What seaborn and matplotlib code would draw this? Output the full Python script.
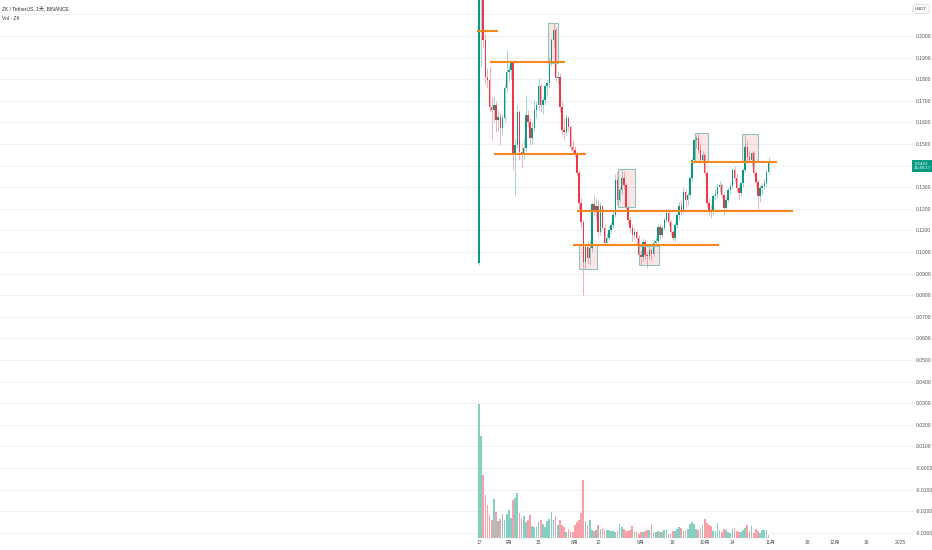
import numpy as np
import pandas as pd
import matplotlib
matplotlib.use("Agg")
import matplotlib.pyplot as plt
from matplotlib.patches import Rectangle
import seaborn as sns

# daily candles ZK/USDT (first day = 2024-06-17)
start_date = "2024-06-17"
open_ = [0.0949, 0.2190, 0.2213, 0.1981, 0.1810, 0.1796, 0.1671, 0.1657, 0.1681, 0.1611,
         0.1625, 0.1574, 0.1620, 0.1759, 0.1833, 0.1843, 0.1875, 0.1458, 0.1495, 0.1648,
         0.1463, 0.1449, 0.1481, 0.1634, 0.1602, 0.1528, 0.1574, 0.1657, 0.1681, 0.1768,
         0.1681, 0.1704, 0.1768, 0.1782, 0.1880, 0.1981, 0.2028, 0.1806, 0.1810, 0.1671,
         0.1565, 0.1556, 0.1620, 0.1579, 0.1486, 0.1472, 0.1458, 0.1366, 0.1227, 0.1139,
         0.0954, 0.1023, 0.0972, 0.1018, 0.1222, 0.1194, 0.1213, 0.1093, 0.1213, 0.1111,
         0.1042, 0.1065, 0.1102, 0.1125, 0.1171, 0.1333, 0.1241, 0.1287, 0.1343, 0.1310,
         0.1208, 0.1148, 0.1111, 0.1079, 0.1093, 0.1065, 0.0986, 0.0977, 0.1046, 0.0986,
         0.0981, 0.1009, 0.0991, 0.1042, 0.1051, 0.1116, 0.1079, 0.1111, 0.1148, 0.1181,
         0.1139, 0.1093, 0.1065, 0.1125, 0.1171, 0.1213, 0.1194, 0.1278, 0.1241, 0.1264,
         0.1343, 0.1426, 0.1519, 0.1528, 0.1472, 0.1426, 0.1449, 0.1366, 0.1227, 0.1194,
         0.1185, 0.1259, 0.1269, 0.1301, 0.1310, 0.1264, 0.1204, 0.1241, 0.1287, 0.1306,
         0.1380, 0.1343, 0.1296, 0.1273, 0.1319, 0.1380, 0.1486, 0.1440, 0.1426, 0.1458,
         0.1366, 0.1324, 0.1259, 0.1296, 0.1306, 0.1319, 0.1370]
high = [0.2400, 0.2350, 0.2230, 0.2010, 0.1850, 0.1856, 0.1720, 0.1720, 0.1700, 0.1660,
        0.1650, 0.1640, 0.1780, 0.1935, 0.1860, 0.1890, 0.1880, 0.1530, 0.1680, 0.1660,
        0.1500, 0.1530, 0.1727, 0.1660, 0.1620, 0.1600, 0.1704, 0.1700, 0.1806, 0.1780,
        0.1720, 0.1780, 0.1800, 0.1900, 0.1990, 0.2059, 0.2040, 0.1840, 0.1830, 0.1700,
        0.1620, 0.1640, 0.1630, 0.1590, 0.1520, 0.1490, 0.1470, 0.1380, 0.1250, 0.1150,
        0.1040, 0.1050, 0.1060, 0.1230, 0.1260, 0.1250, 0.1240, 0.1230, 0.1220, 0.1130,
        0.1090, 0.1120, 0.1140, 0.1190, 0.1360, 0.1370, 0.1300, 0.1383, 0.1370, 0.1320,
        0.1220, 0.1160, 0.1130, 0.1110, 0.1100, 0.1080, 0.1010, 0.1060, 0.1060, 0.1000,
        0.1030, 0.1020, 0.1060, 0.1070, 0.1130, 0.1130, 0.1120, 0.1160, 0.1200, 0.1190,
        0.1150, 0.1100, 0.1140, 0.1180, 0.1230, 0.1240, 0.1300, 0.1290, 0.1280, 0.1350,
        0.1440, 0.1530, 0.1540, 0.1551, 0.1500, 0.1470, 0.1460, 0.1380, 0.1250, 0.1220,
        0.1270, 0.1290, 0.1320, 0.1330, 0.1320, 0.1280, 0.1260, 0.1300, 0.1320, 0.1390,
        0.1400, 0.1360, 0.1310, 0.1330, 0.1390, 0.1546, 0.1519, 0.1470, 0.1470, 0.1470,
        0.1380, 0.1340, 0.1310, 0.1320, 0.1340, 0.1380, 0.1440]
low = [0.0940, 0.1856, 0.1950, 0.1780, 0.1760, 0.1650, 0.1520, 0.1600, 0.1556, 0.1560,
       0.1495, 0.1540, 0.1600, 0.1740, 0.1790, 0.1800, 0.1380, 0.1264, 0.1480, 0.1426,
       0.1390, 0.1430, 0.1470, 0.1580, 0.1495, 0.1500, 0.1560, 0.1620, 0.1660, 0.1648,
       0.1640, 0.1680, 0.1720, 0.1760, 0.1860, 0.1950, 0.1790, 0.1780, 0.1650, 0.1540,
       0.1520, 0.1540, 0.1560, 0.1470, 0.1460, 0.1440, 0.1350, 0.1200, 0.1110, 0.0801,
       0.0920, 0.0950, 0.0940, 0.1000, 0.1170, 0.1150, 0.1070, 0.1080, 0.1100, 0.1030,
       0.1030, 0.1050, 0.1090, 0.1110, 0.1160, 0.1220, 0.1230, 0.1270, 0.1290, 0.1190,
       0.1130, 0.1090, 0.1050, 0.1060, 0.1040, 0.0970, 0.0940, 0.0960, 0.0970, 0.0926,
       0.0970, 0.0960, 0.0980, 0.1030, 0.1040, 0.1060, 0.1070, 0.1100, 0.1140, 0.1120,
       0.1080, 0.1050, 0.1050, 0.1110, 0.1150, 0.1170, 0.1180, 0.1210, 0.1220, 0.1250,
       0.1330, 0.1410, 0.1480, 0.1460, 0.1410, 0.1410, 0.1350, 0.1210, 0.1170, 0.1157,
       0.1170, 0.1240, 0.1250, 0.1280, 0.1250, 0.1170, 0.1190, 0.1230, 0.1270, 0.1290,
       0.1330, 0.1280, 0.1240, 0.1260, 0.1300, 0.1370, 0.1420, 0.1410, 0.1400, 0.1350,
       0.1300, 0.1199, 0.1230, 0.1270, 0.1290, 0.1300, 0.1360]
close = [0.2190, 0.2213, 0.1981, 0.1810, 0.1796, 0.1671, 0.1657, 0.1681, 0.1611, 0.1625,
         0.1574, 0.1620, 0.1759, 0.1833, 0.1843, 0.1875, 0.1458, 0.1495, 0.1648, 0.1463,
         0.1449, 0.1481, 0.1634, 0.1602, 0.1528, 0.1574, 0.1657, 0.1681, 0.1768, 0.1681,
         0.1704, 0.1768, 0.1782, 0.1880, 0.1981, 0.2028, 0.1806, 0.1810, 0.1671, 0.1565,
         0.1556, 0.1620, 0.1579, 0.1486, 0.1472, 0.1458, 0.1366, 0.1227, 0.1139, 0.0954,
         0.1023, 0.0972, 0.1018, 0.1222, 0.1194, 0.1213, 0.1093, 0.1213, 0.1111, 0.1042,
         0.1065, 0.1102, 0.1125, 0.1171, 0.1333, 0.1241, 0.1287, 0.1343, 0.1310, 0.1208,
         0.1148, 0.1111, 0.1079, 0.1093, 0.1065, 0.0986, 0.0977, 0.1046, 0.0986, 0.0981,
         0.1009, 0.0991, 0.1042, 0.1051, 0.1116, 0.1079, 0.1111, 0.1148, 0.1181, 0.1139,
         0.1093, 0.1065, 0.1125, 0.1171, 0.1213, 0.1194, 0.1278, 0.1241, 0.1264, 0.1343,
         0.1426, 0.1519, 0.1528, 0.1472, 0.1426, 0.1449, 0.1366, 0.1227, 0.1194, 0.1185,
         0.1259, 0.1269, 0.1301, 0.1310, 0.1264, 0.1204, 0.1241, 0.1287, 0.1306, 0.1380,
         0.1343, 0.1296, 0.1273, 0.1319, 0.1380, 0.1486, 0.1440, 0.1426, 0.1458, 0.1366,
         0.1324, 0.1259, 0.1296, 0.1306, 0.1319, 0.1370, 0.1412]
# volume, millions of ZK
volume = [134, 102, 63, 43, 33, 23, 18, 39, 26, 17, 19, 24, 18, 24, 28, 20, 38, 40, 45, 25,
          20, 22, 16, 18, 23, 12, 11, 11, 16, 18, 14, 11, 17, 19, 26, 18, 22, 13, 18, 13,
          11, 6, 9, 7, 6, 13, 16, 18, 25, 58, 17, 13, 18, 8, 7, 8, 13, 9, 10, 8,
          8, 8, 7, 7, 6, 7, 14, 11, 9, 7, 7, 8, 12, 6, 7, 4, 6, 6, 7, 8,
          8, 14, 5, 6, 7, 6, 6, 8, 8, 4, 4, 7, 7, 9, 11, 10, 7, 7, 9, 14,
          16, 14, 9, 8, 9, 13, 19, 15, 13, 12, 7, 7, 15, 8, 6, 9, 8, 6, 5, 9,
          10, 7, 6, 6, 8, 10, 13, 7, 12, 5, 9, 7, 5, 8, 8, 8, 3]

# drawn support / resistance levels: price, first day, last day
level_price = [0.2025, 0.1878, 0.1455, 0.1191, 0.1034, 0.1418]
level_from = [-0.9, 5.2, 7.0, 46.2, 44.1, 99.5]
level_to = [8.9, 40.4, 50.2, 147.4, 112.7, 139.8]

# highlighted boxes: day range and price range
box_day0 = [32.2, 47.1, 65.4, 75.3, 101.4, 123.6]
box_day1 = [37.2, 55.5, 73.2, 84.6, 107.7, 130.8]
box_lo = [0.1874, 0.0920, 0.1207, 0.0940, 0.1423, 0.1423]
box_hi = [0.2059, 0.1032, 0.1383, 0.1028, 0.1550, 0.1546]

tick_dates = ["2024-06-17", "2024-07-01", "2024-07-15", "2024-08-01", "2024-08-12",
              "2024-09-01", "2024-09-16", "2024-10-01", "2024-10-14", "2024-11-01",
              "2024-11-18", "2024-12-01", "2024-12-16", "2025-01-01"]
tick_names = ["17", "7月", "15", "8月", "12", "9月", "16", "10月", "14", "11月",
              "18", "12月", "16", "2025"]
# 0.2100 and 0.1400 sit under the USDT box and the price tag
price_ticks = [0.21, 0.20, 0.19, 0.18, 0.17, 0.16, 0.15, 0.14, 0.13, 0.12, 0.11, 0.10,
               0.09, 0.08, 0.07, 0.06, 0.05, 0.04, 0.03, 0.02, 0.01, 0.0,
               -0.01, -0.02, -0.03]
price_names = ["", "0.2000", "0.1900", "0.1800", "0.1700", "0.1600", "0.1500",
               "", "0.1300", "0.1200", "0.1100", "0.1000", "0.0900", "0.0800",
               "0.0700", "0.0600", "0.0500", "0.0400", "0.0300", "0.0200", "0.0100",
               "-0.0000", "-0.0100", "-0.0200", "-0.0300"]

UP = "#089981"
DOWN = "#f23645"

sns.set_theme(style="white")
plt.rcParams['font.family'] = ['Liberation Sans', 'Noto Sans CJK SC', 'DejaVu Sans']

df = pd.DataFrame({"open": open_, "high": high, "low": low, "close": close, "vol": volume})
df["day"] = np.arange(len(df))
df["up"] = df["close"] >= df["open"]

fig = plt.figure(figsize=(9.32, 5.5), dpi=100)
ax = fig.add_axes([0, 12 / 550, 913 / 932, 538 / 550])

# grid
for p in price_ticks:
    ax.axhline(p, color="#eeeeee", lw=0.6, zorder=0)

# volume overlay on a twin axis
axv = ax.twinx()
sns.barplot(data=df, x="day", y="vol", native_scale=True, color=UP, saturation=1,
            width=0.8, errorbar=None, ax=axv)
for patch, is_up in zip(axv.patches, df["up"]):
    patch.set_facecolor("#86cdc2" if is_up else "#f8a0a7")
    patch.set_edgecolor("none")
axv.set_ylim(0, 538)
axv.set_yticks([])
axv.set_ylabel("")
axv.set_xlabel("")
for s in axv.spines.values():
    s.set_visible(False)

# candles
wick_col = np.where(df["up"], "#9ed6cd", "#f7b0b7")
body_col = np.where(df["up"], UP, DOWN)
ax.vlines(df["day"], df["low"], df["high"], colors=wick_col, lw=0.7, zorder=2)
ax.bar(df["day"], df["close"] - df["open"], bottom=df["open"], width=0.7,
       color=body_col, lw=0, zorder=3)

# boxes and levels
for d0, d1, lo, hi in zip(box_day0, box_day1, box_lo, box_hi):
    ax.add_patch(Rectangle((d0, lo), d1 - d0, hi - lo, facecolor="#f23645", alpha=0.13,
                           edgecolor="none", zorder=4))
    ax.add_patch(Rectangle((d0, lo), d1 - d0, hi - lo, facecolor="none",
                           edgecolor="#8cc3bc", lw=0.8, zorder=4))
for p, d0, d1 in zip(level_price, level_from, level_to):
    ax.plot([d0, d1], [p, p], color="#f7861c", lw=1.5, zorder=5, solid_capstyle="butt")

start = pd.Timestamp(start_date)
ax.set_xlim(-224.9, 203.8)
ax.set_ylim(-0.0324, 0.2167)
ax.set_xticks([(pd.Timestamp(d) - start).days for d in tick_dates])
ax.set_xticklabels(tick_names)
ax.yaxis.tick_right()
ax.set_yticks(price_ticks)
ax.set_yticklabels(price_names)
ax.tick_params(axis="y", length=0, pad=2, labelsize=3.6, labelcolor="#555555")
ax.tick_params(axis="x", length=0, pad=1.5, labelsize=3.6, labelcolor="#555555")
for s in ax.spines.values():
    s.set_visible(False)
axv.set_xlim(ax.get_xlim())

# header texts
fig.text(2 / 932, 1 - 10 / 550, "ZK / TetherUS, 1天, BINANCE", fontsize=3.6,
         color="#333333", va="center")
fig.text(2 / 932, 1 - 19 / 550, "Vol · ZK", fontsize=3.6, color="#333333", va="center")

# last price tag and currency box
fig.text(922 / 932, 1 - 166 / 550, "0.1412\n16:40:17", fontsize=3.2, color="white",
         ha="center", va="center", linespacing=1.2,
         bbox=dict(boxstyle="square,pad=0.35", facecolor=UP, edgecolor="none"))
fig.text(921 / 932, 1 - 9 / 550, "USDT", fontsize=3.2, color="#333333", ha="center",
         va="center", bbox=dict(boxstyle="round,pad=0.5", facecolor="white",
                                edgecolor="#cccccc", lw=0.5))

fig.savefig("out.png", dpi=100)
